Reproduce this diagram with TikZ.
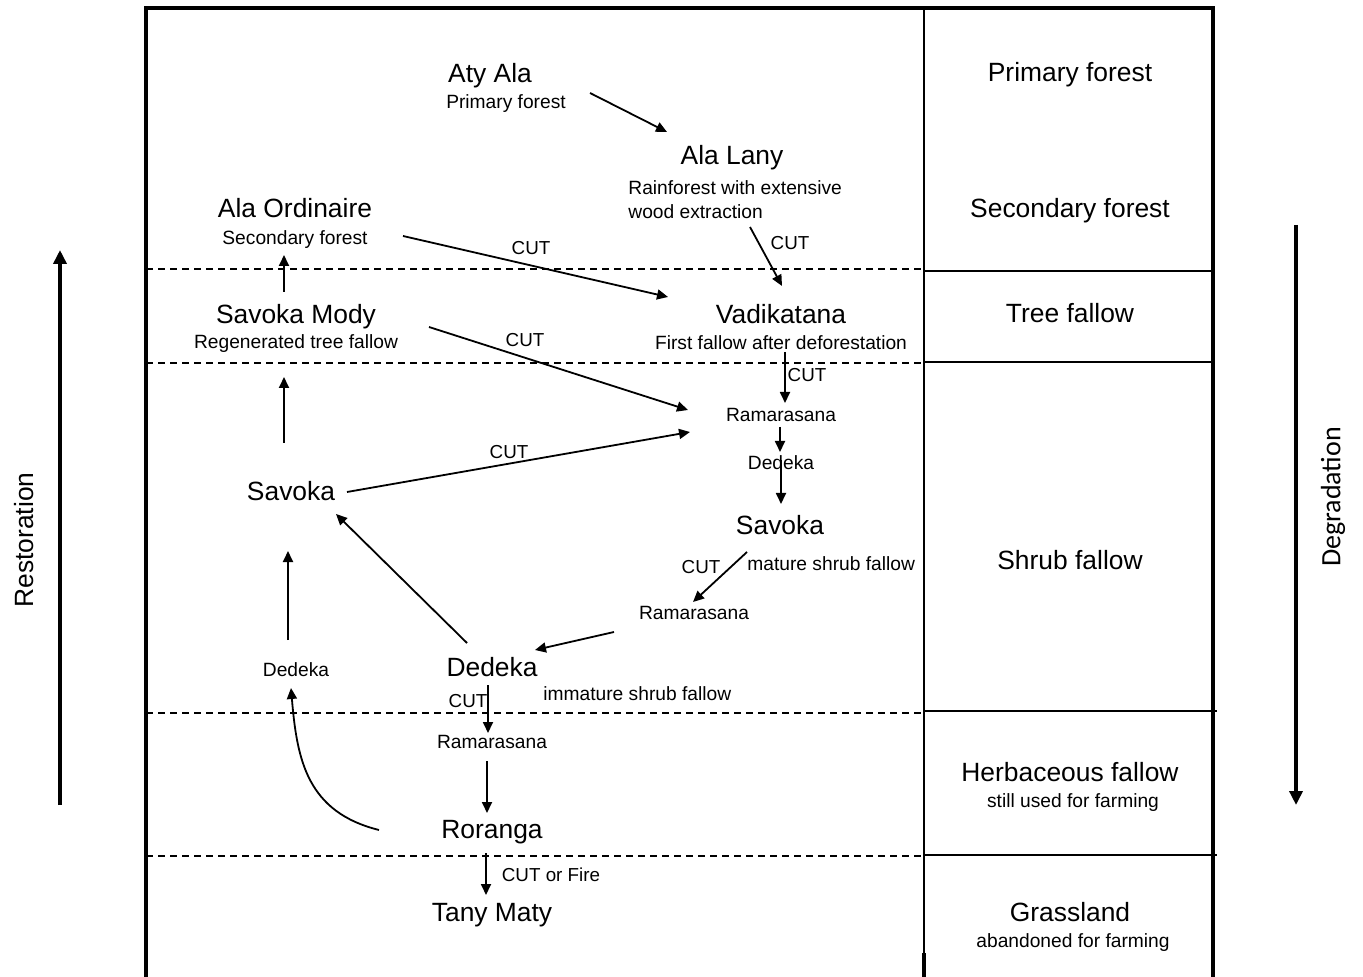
\documentclass[tikz,border=0pt]{standalone}
\usepackage{fontspec}
\setmainfont{Liberation Sans}
\newfontfamily\degfont{Carlito}
\usetikzlibrary{arrows.meta}

\begin{document}
\begin{tikzpicture}
  [x=0.5pt,y=-0.5pt,every node/.style={inner sep=0pt,anchor=base},
   big/.style={font=\fontsize{13.2}{15}\selectfont},
   small/.style={font=\fontsize{9.6}{11}\selectfont},
   cut/.style={font=\fontsize{9.4}{11}\selectfont},
   arr/.style={-{Triangle[length=5.5pt,width=5pt]},line width=0.9pt},
   bigarr/.style={-{Triangle[length=7pt,width=6.5pt]},line width=2pt},
   zone/.style={dashed,dash pattern=on 3.5pt off 2.5pt,line width=0.7pt}]
  \useasboundingbox (0,0) rectangle (1363,977);

  % frame and columns
  \draw[line width=2pt] (146,977) -- (146,8) -- (1213,8) -- (1213,977);
  \draw[line width=1pt] (924,8) -- (924,977);
  \draw[line width=2pt] (924,953) -- (924,977);
  \foreach \y in {269,363,713,856}
    \draw[zone] (146,\y) -- (924,\y);
  \foreach \y/\e in {271/1213,362/1213,711/1217,855/1217}
    \draw[line width=0.9pt] (924,\y) -- (\e,\y);

  % zones
  \node[big] (z1) at (1070,82) {Primary forest};
  \node[big] (z2) at (1070,218) {Secondary forest};
  \node[big] (z3) at (1070,323) {Tree fallow};
  \node[big] (z4) at (1070,569) {Shrub fallow};
  \node[big] (z5) at (1070,781) {Herbaceous fallow};
  \node[small] (z5s) at (1073,807) {still used for farming};
  \node[big] (z6) at (1070,921) {Grassland};
  \node[small] (z6s) at (1073,947) {abandoned for farming};

  % stages
  \node[big] (aty) at (490,83) {Aty Ala};
  \node[small] (atysub) at (506,109) {Primary forest};
  \node[big] (lany) at (732,165) {Ala Lany};
  \node[small,anchor=base west] (lanya) at (628,195) {Rainforest with extensive};
  \node[small,anchor=base west] (lanyb) at (628,219) {wood extraction};
  \node[big] (ord) at (295,218) {Ala Ordinaire};
  \node[small] (ordsub) at (295,245) {Secondary forest};
  \node[big] (mody) at (296,324) {Savoka Mody};
  \node[small] (modysub) at (296,349) {Regenerated tree fallow};
  \node[big] (vadi) at (781,324) {Vadikatana};
  \node[small] (vadisub) at (781,350) {First fallow after deforestation};
  \node[small] (rama1) at (781,422) {Ramarasana};
  \node[small] (ded1) at (781,470) {Dedeka};
  \node[big] (sav1) at (780,535) {Savoka};
  \node[small,anchor=base west] (savsub) at (747,570) {mature shrub fallow};
  \node[small] (rama2) at (694,619) {Ramarasana};
  \node[big] (ded2) at (492,676) {Dedeka};
  \node[small,anchor=base west] (dedsub) at (543,700) {immature shrub fallow};
  \node[small] (rama3) at (492,748) {Ramarasana};
  \node[big] (ror) at (492,838) {Roranga};
  \node[big] (tany) at (492,921) {Tany Maty};
  \node[big] (sav2) at (291,501) {Savoka};
  \node[small] (ded3) at (296,676) {Dedeka};

  % cut labels
  \node[cut] (cut1) at (531,255) {CUT};
  \node[cut] (cut2) at (525,347) {CUT};
  \node[cut] (cut3) at (790,250) {CUT};
  \node[cut] (cut4) at (807,382) {CUT};
  \node[cut] (cut5) at (509,459) {CUT};
  \node[cut] (cut6) at (701,573) {CUT};
  \node[cut] (cut7) at (468,707) {CUT};
  \node[cut] (fire) at (551,881) {CUT or Fire};

  % transitions
  \draw[arr] ([shift={(84,-16)}]atysub.base) -- ([shift={(-65,-33)}]lany.base);
  \draw[arr] ([shift={(18,62)}]lany.base) -- ([shift={(1,-38)}]vadi.base);
  \draw[arr] ([shift={(108,-9)}]ordsub.base) -- ([shift={(-113,-27)}]vadi.base);
  \draw[arr] ([shift={(-12,-32)}]mody.base) -- ([shift={(-11,10)}]ordsub.base);
  \draw[arr] ([shift={(133,3)}]mody.base) -- ([shift={(-93,-12)}]rama1.base);
  \draw[arr] ([shift={(4,2)}]vadisub.base) -- ([shift={(4,-19)}]rama1.base);
  \draw[arr] ([shift={(-1,5)}]rama1.base) -- ([shift={(-1,-18)}]ded1.base);
  \draw[arr] ([shift={(0,-10)}]ded1.base) -- ([shift={(1,-31)}]sav1.base);
  \draw[arr] ([shift={(56,-9)}]sav2.base) -- ([shift={(-91,10)}]rama1.base);
  \draw[arr] ([shift={(-7,-58)}]sav2.base) -- ([shift={(-12,28)}]modysub.base);
  \draw[arr] ([shift={(-33,17)}]sav1.base) -- ([shift={(-1,-17)}]rama2.base);
  \draw[arr] ([shift={(-80,13)}]rama2.base) -- ([shift={(43,-26)}]ded2.base);
  \draw[arr] ([shift={(-25,-33)}]ded2.base) -- ([shift={(45,13)}]sav2.base);
  \draw[arr] ([shift={(-8,-36)}]ded3.base) -- ([shift={(-3,50)}]sav2.base);
  \draw[arr] ([shift={(-113,-8)}]ror.base) .. controls (307,812) and (297,760) .. ([shift={(-5,12)}]ded3.base);
  \draw[arr] ([shift={(-4,9)}]ded2.base) -- ([shift={(-4,-15)}]rama3.base);
  \draw[arr] ([shift={(-5,13)}]rama3.base) -- ([shift={(-5,-25)}]ror.base);
  \draw[arr] ([shift={(-6,15)}]ror.base) -- ([shift={(-6,-26)}]tany.base);

  % trends
  \node[big,rotate=90,anchor=center] (rest) at (24,540) {Restoration};
  \coordinate (rest0) at (60,805);
  \coordinate (rest1) at (60,250);
  \draw[bigarr] (rest0) -- (rest1);
  \node[rotate=90,anchor=center,font=\degfont\fontsize{14}{16}\selectfont] (deg) at (1333,497) {Degradation};
  \coordinate (deg0) at (1296,225);
  \coordinate (deg1) at (1296,805);
  \draw[bigarr] (deg0) -- (deg1);
\end{tikzpicture}
\end{document}
